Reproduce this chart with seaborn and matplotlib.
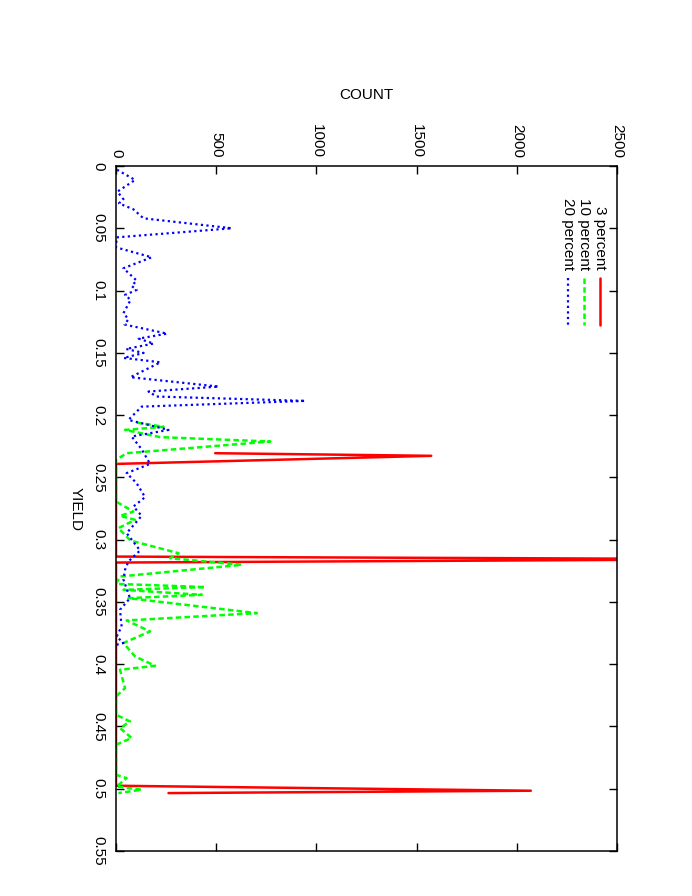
import numpy as np
import pandas as pd
import matplotlib
matplotlib.use("Agg")
import matplotlib.pyplot as plt
import seaborn as sns
from matplotlib.lines import Line2D

# ---------------- data ----------------
red_yield = [0.2306, 0.2327, 0.2392, 0.3136, 0.3157, 0.3184, 0.4976, 0.5016, 0.5035]
red_count = [495, 1573, 0, 0, 3200, 0, 0, 2070, 262]

green_yield = [0.2060, 0.2094, 0.2119, 0.2177, 0.2212, 0.2306, 0.2360, 0.2694, 0.2775,
               0.2809, 0.2841, 0.2908, 0.3007, 0.3109, 0.3149, 0.3202, 0.3296, 0.3355,
               0.3381, 0.3403, 0.3443, 0.3470, 0.3590, 0.3649, 0.3737, 0.3830, 0.3938,
               0.4013, 0.4045, 0.4192, 0.4259, 0.4406, 0.4460, 0.4513, 0.4593, 0.4647,
               0.4888, 0.4915, 0.4982, 0.5008, 0.5035]
green_count = [103, 237, 45, 220, 770, 53, 0, 0, 87,
               20, 95, 12, 72, 312, 270, 628, 20, 0,
               445, 37, 428, 62, 703, 53, 170, 37, 95,
               195, 20, 45, 0, 0, 70, 20, 78, 0,
               0, 53, 3, 128, 12]

blue_yield = [0.003, 0.0112, 0.0206, 0.0267, 0.0300, 0.0348, 0.0420, 0.0500, 0.0573,
              0.0653, 0.0733, 0.0821, 0.0920, 0.0963, 0.0995, 0.1035, 0.1075, 0.1182,
              0.1230, 0.1273, 0.1346, 0.1386, 0.1426, 0.1469, 0.1501, 0.1541, 0.1576,
              0.1696, 0.1771, 0.1811, 0.1851, 0.1886, 0.1932, 0.2039, 0.2119, 0.2172,
              0.2274, 0.2392, 0.2466, 0.2547, 0.2659, 0.2734, 0.2809, 0.2948, 0.3087,
              0.3175, 0.3242, 0.3320, 0.3470, 0.3563, 0.3697, 0.3778, 0.3830, 0.3845]
blue_count = [5, 95, 7, 37, 15, 87, 137, 578, 3,
              0, 178, 37, 103, 78, 103, 45, 73, 37,
              62, 43, 255, 113, 188, 50, 138, 38, 222,
              72, 512, 162, 203, 945, 128, 62, 262, 78,
              128, 170, 53, 103, 145, 87, 128, 53, 120,
              62, 45, 37, 70, 20, 28, 3, 37, 0]

series_names = ["3 percent", "10 percent", "20 percent"]
series_colors = ["#ff0000", "#00ff00", "#0000ff"]

count_ticks = [0, 500, 1000, 1500, 2000, 2500]
yield_ticks = [0, 0.05, 0.1, 0.15, 0.2, 0.25, 0.3, 0.35, 0.4, 0.45, 0.5, 0.55]
yield_tick_labels = ["0", "0.05", "0.1", "0.15", "0.2", "0.25", "0.3", "0.35",
                     "0.4", "0.45", "0.5", "0.55"]

# ---------------- style ----------------
sns.set_theme(style="white")
plt.rcParams["font.family"] = ["Liberation Sans", "DejaVu Sans"]
plt.rcParams["font.size"] = 11
plt.rcParams["text.color"] = "black"
plt.rcParams["axes.labelcolor"] = "black"
plt.rcParams["xtick.color"] = "black"
plt.rcParams["ytick.color"] = "black"

W, H = 692, 896
fig = plt.figure(figsize=(W / 100, H / 100), dpi=100)
L, R, T, B = 116, 617, 166, 851
ax = fig.add_axes([L / W, 1 - B / H, (R - L) / W, (B - T) / H])
ax.set_facecolor("white")

styles = [
    dict(linestyle="-", linewidth=1.8),
    dict(linestyle=(0, (2.2, 1.3)), linewidth=1.8),
    dict(linestyle=(0, (1.0, 1.5)), linewidth=1.6),
]

frames = [
    pd.DataFrame({"yield": red_yield, "count": red_count}),
    pd.DataFrame({"yield": green_yield, "count": green_count}),
    pd.DataFrame({"yield": blue_yield, "count": blue_count}),
]

for df, col, st in zip(frames, series_colors, styles):
    sns.lineplot(data=df, x="count", y="yield", sort=False, estimator=None,
                 color=col, ax=ax, legend=False, dash_capstyle="butt", **st)

ax.set_xlim(0, 2500)
ax.set_ylim(0.55, 0)

ax.set_xticks(count_ticks)
ax.set_xticklabels([str(c) for c in count_ticks], rotation=270)
ax.set_yticks(yield_ticks)
ax.set_yticklabels(yield_tick_labels, rotation=270, va="center")

ax.xaxis.set_ticks_position("both")
ax.yaxis.set_ticks_position("both")
ax.tick_params(axis="x", which="both", direction="in", length=6, width=1.0,
               labeltop=True, labelbottom=False, pad=6, colors="black", labelsize=11)
ax.tick_params(axis="y", which="both", direction="in", length=6, width=1.0,
               labelleft=True, labelright=False, pad=8, colors="black", labelsize=11)

for s in ax.spines.values():
    s.set_visible(True)
    s.set_color("black")
    s.set_linewidth(1.1)

ax.xaxis.set_label_position("top")
ax.set_xlabel("COUNT", fontsize=11, labelpad=18, color="black")
ax.set_ylabel("YIELD", fontsize=11, rotation=270, va="center", ha="center", color="black")
ax.yaxis.set_label_coords((76 - L) / (R - L), 0.5)

# legend (rotated, drawn manually)
leg_x = [600, 584, 568]
text_end_y = 270
samp_y0, samp_y1 = 278, 325
for name, col, st, xp in zip(series_names, series_colors, styles, leg_x):
    xa = (xp - L) / (R - L)
    ax.text(xa, 1 - (text_end_y - T) / (B - T), name, rotation=270, color="black",
            transform=ax.transAxes, ha="center", va="bottom", fontsize=11)
    ln = Line2D([xa, xa], [1 - (samp_y0 - T) / (B - T), 1 - (samp_y1 - T) / (B - T)],
                transform=ax.transAxes, color=col, dash_capstyle="butt", **st)
    ax.add_line(ln)

fig.savefig("out.png", dpi=100, facecolor="white")
